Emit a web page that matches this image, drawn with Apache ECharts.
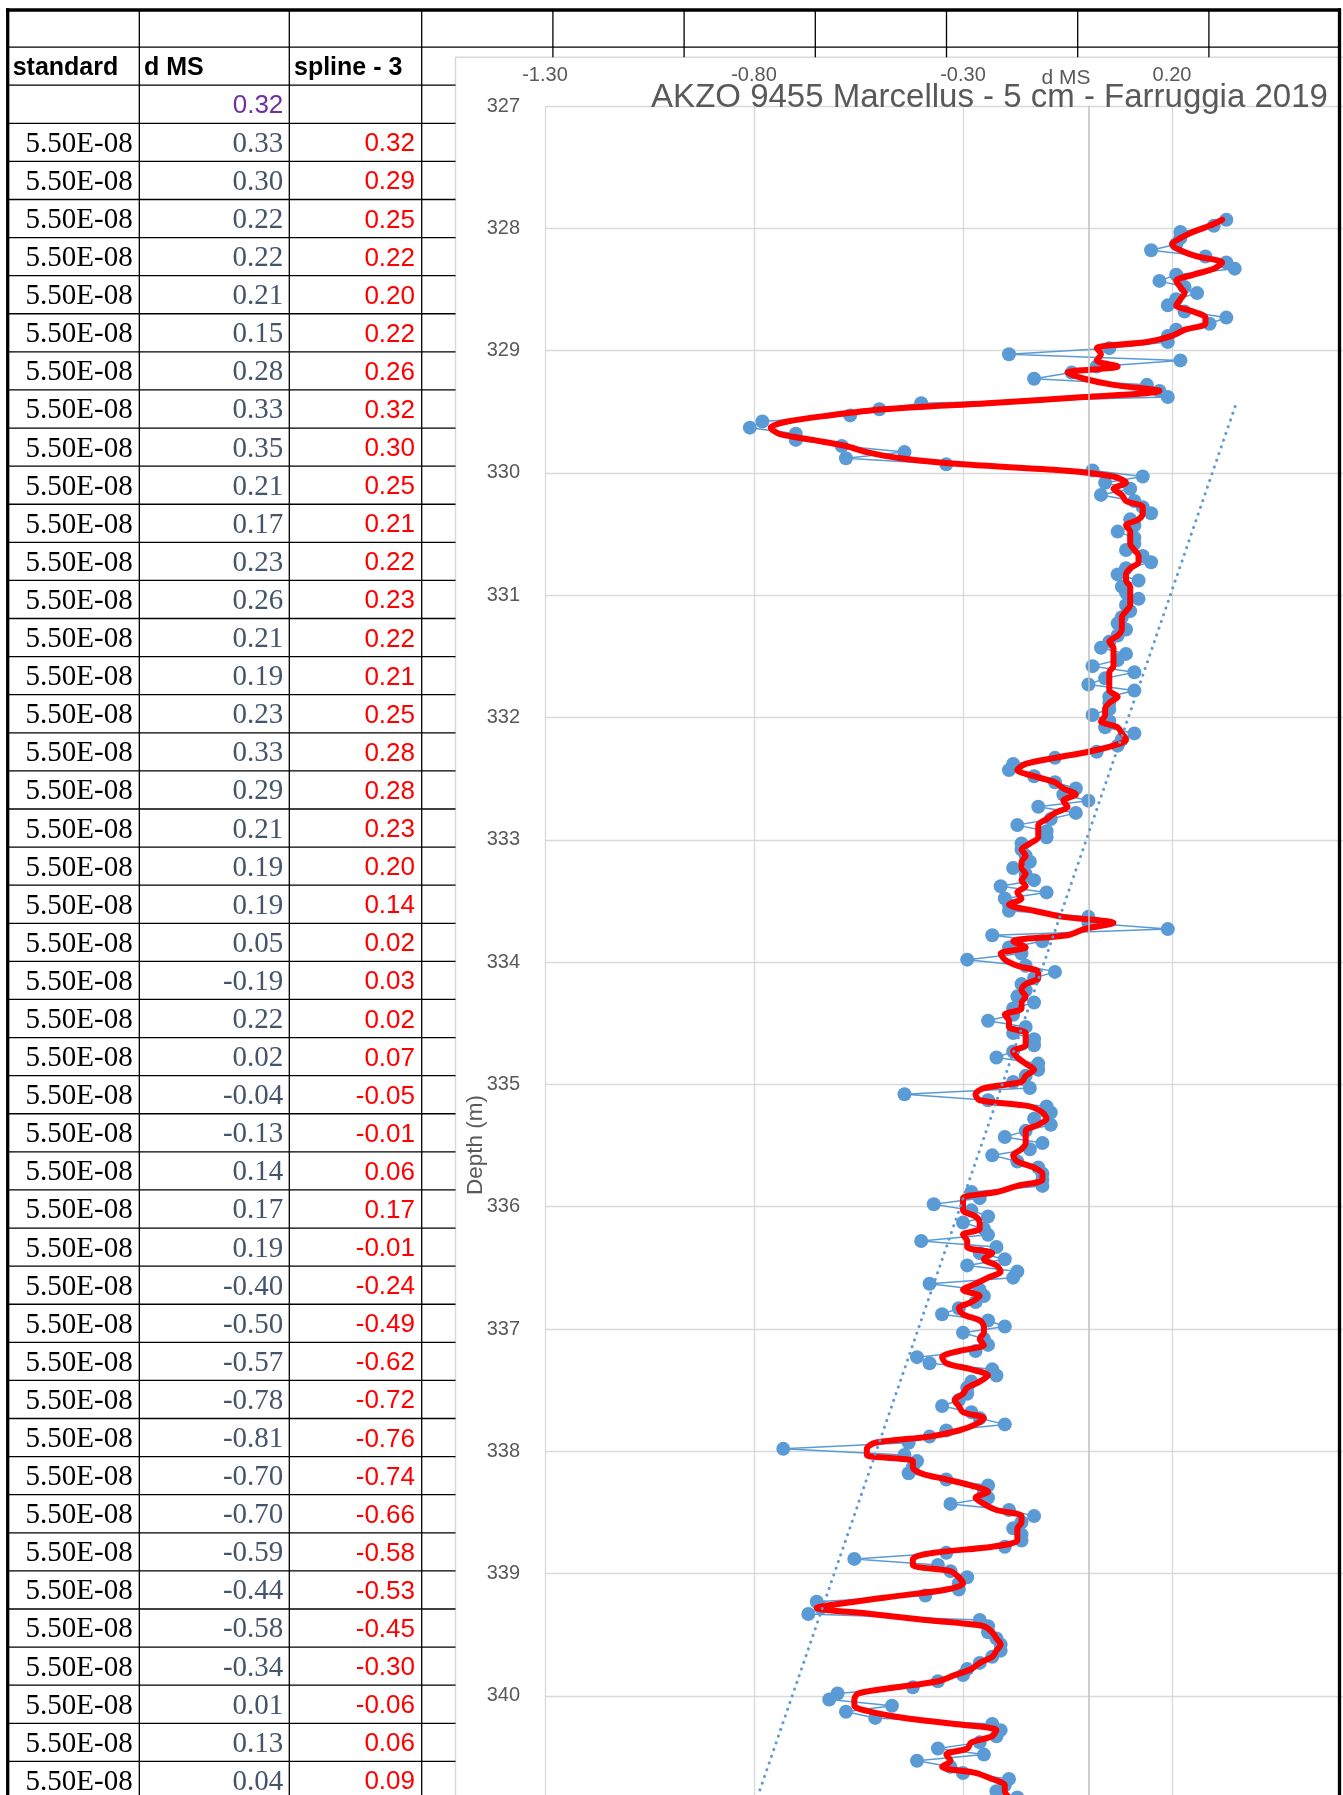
<!DOCTYPE html>
<html>
<head>
<meta charset="utf-8">
<script src="https://cdn.jsdelivr.net/npm/echarts@6/dist/echarts.min.js"></script>
<style>
html,body{margin:0;padding:0;background:#fff;}
#chart{width:1343px;height:1795px;}
</style>
</head>
<body>
<div id="chart"></div>
<script>
// ---------------- DATA ----------------
// Sample depth of spreadsheet row 0 and sampling step (5 cm)
const DEPTH_ROW0 = 327.88;
const DEPTH_STEP = 0.05;

// table headers
const tableHeaders = ['standard', 'd MS', 'spline - 3'];

// "standard" column (rows 1..44 visible in the sheet)
const standardCol = [5.5e-8,5.5e-8,5.5e-8,5.5e-8,5.5e-8,5.5e-8,5.5e-8,5.5e-8,5.5e-8,5.5e-8,
  5.5e-8,5.5e-8,5.5e-8,5.5e-8,5.5e-8,5.5e-8,5.5e-8,5.5e-8,5.5e-8,5.5e-8,
  5.5e-8,5.5e-8,5.5e-8,5.5e-8,5.5e-8,5.5e-8,5.5e-8,5.5e-8,5.5e-8,5.5e-8,
  5.5e-8,5.5e-8,5.5e-8,5.5e-8,5.5e-8,5.5e-8,5.5e-8,5.5e-8,5.5e-8,5.5e-8,
  5.5e-8,5.5e-8,5.5e-8,5.5e-8];

// d MS, rows 0..259 (row 0 is the purple cell, not plotted)
const dMS = [0.32,
  0.33,0.30,0.22,0.22,0.21,0.15,0.28,0.33,0.35,0.21,
  0.17,0.23,0.26,0.21,0.19,0.23,0.33,0.29,0.21,0.19,
  0.19,0.05,-0.19,0.22,0.02,-0.04,-0.13,0.14,0.17,0.19,
  -0.40,-0.50,-0.57,-0.78,-0.81,-0.70,-0.70,-0.59,-0.44,-0.58,
  -0.34,0.01,0.13,0.04,0.10,0.03,0.11,0.13,0.15,0.10,
  0.11,0.07,0.11,0.11,0.09,0.13,0.15,0.09,0.07,0.12,
  0.08,0.09,0.12,0.09,0.10,0.08,0.07,0.09,0.07,0.05,
  0.03,0.09,0.07,0.01,0.11,0.04,0.00,0.11,0.05,0.05,
  0.05,0.01,0.05,0.04,0.11,0.08,0.07,0.02,-0.08,-0.18,
  -0.19,-0.13,-0.08,-0.03,-0.06,0.00,-0.12,-0.03,-0.09,-0.17,
  -0.10,-0.10,-0.16,-0.16,-0.15,-0.14,-0.18,-0.15,-0.13,-0.21,
  -0.10,-0.20,-0.19,-0.19,0.00,0.00,0.19,-0.23,-0.11,-0.19,
  -0.16,-0.29,-0.15,-0.08,-0.13,-0.16,-0.15,-0.17,-0.13,-0.18,
  -0.18,-0.24,-0.15,-0.18,-0.13,-0.13,-0.18,-0.22,-0.12,-0.12,
  -0.15,-0.18,-0.14,-0.44,-0.24,-0.10,-0.09,-0.13,-0.09,-0.15,
  -0.20,-0.11,-0.14,-0.23,-0.17,-0.12,-0.11,-0.11,-0.11,-0.28,
  -0.26,-0.37,-0.28,-0.24,-0.30,-0.25,-0.24,-0.40,-0.22,-0.26,
  -0.20,-0.29,-0.17,-0.18,-0.38,-0.26,-0.25,-0.27,-0.31,-0.35,
  -0.24,-0.20,-0.30,-0.25,-0.24,-0.27,-0.41,-0.38,-0.23,-0.22,
  -0.28,-0.29,-0.29,-0.31,-0.35,-0.28,-0.26,-0.20,-0.34,-0.38,
  -0.43,-0.73,-0.44,-0.41,-0.42,-0.43,-0.34,-0.24,-0.25,-0.24,
  -0.33,-0.19,-0.13,-0.16,-0.18,-0.16,-0.16,-0.20,-0.34,-0.56,
  -0.36,-0.33,-0.29,-0.31,-0.31,-0.39,-0.65,-0.64,-0.67,-0.26,
  -0.24,-0.24,-0.22,-0.21,-0.21,-0.23,-0.26,-0.29,-0.30,-0.36,
  -0.42,-0.60,-0.62,-0.47,-0.58,-0.51,-0.23,-0.21,-0.22,-0.26,
  -0.36,-0.25,-0.41,-0.33,-0.30,-0.19,-0.20,-0.22,-0.17];

// spline - 3, rows 0..259 (row 0 empty)
const spline3 = [null,
  0.32,0.29,0.25,0.22,0.20,0.22,0.26,0.32,0.30,0.25,
  0.21,0.22,0.23,0.22,0.21,0.25,0.28,0.28,0.23,0.20,
  0.14,0.02,0.03,0.02,0.07,-0.05,-0.01,0.06,0.17,-0.01,
  -0.24,-0.49,-0.62,-0.72,-0.76,-0.74,-0.66,-0.58,-0.53,-0.45,
  -0.30,-0.06,0.06,0.09,0.06,0.08,0.09,0.13,0.13,0.12,
  0.09,0.10,0.10,0.10,0.11,0.12,0.12,0.10,0.09,0.09,
  0.10,0.10,0.10,0.10,0.09,0.08,0.08,0.08,0.07,0.05,
  0.06,0.06,0.06,0.06,0.05,0.05,0.05,0.05,0.07,0.05,
  0.04,0.04,0.03,0.07,0.08,0.09,0.06,0.00,-0.08,-0.15,
  -0.17,-0.13,-0.08,-0.06,-0.03,-0.06,-0.05,-0.08,-0.10,-0.12,
  -0.12,-0.12,-0.14,-0.16,-0.15,-0.16,-0.16,-0.15,-0.16,-0.15,
  -0.17,-0.16,-0.19,-0.13,-0.06,0.06,-0.01,-0.05,-0.18,-0.15,
  -0.21,-0.20,-0.17,-0.12,-0.12,-0.15,-0.16,-0.15,-0.16,-0.16,
  -0.20,-0.19,-0.19,-0.15,-0.15,-0.15,-0.18,-0.17,-0.15,-0.13,
  -0.15,-0.16,-0.25,-0.27,-0.26,-0.14,-0.11,-0.10,-0.12,-0.15,
  -0.15,-0.15,-0.16,-0.18,-0.17,-0.13,-0.11,-0.11,-0.17,-0.22,
  -0.30,-0.30,-0.30,-0.27,-0.26,-0.26,-0.30,-0.29,-0.29,-0.23,
  -0.25,-0.22,-0.21,-0.24,-0.27,-0.30,-0.26,-0.28,-0.31,-0.30,
  -0.26,-0.25,-0.25,-0.26,-0.25,-0.31,-0.35,-0.34,-0.28,-0.24,
  -0.26,-0.29,-0.30,-0.32,-0.31,-0.30,-0.25,-0.27,-0.31,-0.38,
  -0.51,-0.53,-0.53,-0.42,-0.42,-0.40,-0.34,-0.28,-0.24,-0.27,
  -0.25,-0.22,-0.16,-0.16,-0.17,-0.17,-0.17,-0.23,-0.37,-0.42,
  -0.42,-0.33,-0.31,-0.30,-0.34,-0.45,-0.56,-0.65,-0.52,-0.39,
  -0.25,-0.23,-0.22,-0.21,-0.22,-0.23,-0.26,-0.28,-0.32,-0.36,
  -0.46,-0.55,-0.56,-0.56,-0.52,-0.44,-0.32,-0.22,-0.23,-0.28,
  -0.29,-0.34,-0.33,-0.35,-0.27,-0.23,-0.20,-0.20,-0.19];

// linear trendline (depth = intercept + slope * dMS)
const trendSlope = -9.95;
const trendIntercept = 332.95;
const trendXRange = [0.351, -0.9];

// axis definitions (tick labels)
const dmsAxis = {min: -1.3, max: 0.7, step: 0.5};
const depthAxis = {min: 327, max: 342, step: 1};

const chartTitle = 'AKZO 9455 Marcellus - 5 cm - Farruggia 2019';
const xAxisTitle = 'd MS';
const yAxisTitle = 'Depth (m)';

// ---------------- BUILD ----------------
const depthOf = i => Math.round((DEPTH_ROW0 + DEPTH_STEP * i) * 100) / 100;
const FIRST_PLOTTED_ROW = 1;
const bluePts = [], redPts = [];
for (let i = FIRST_PLOTTED_ROW; i < dMS.length; i++) bluePts.push([dMS[i], depthOf(i)]);
for (let i = FIRST_PLOTTED_ROW; i < spline3.length; i++) if (spline3[i] !== null) redPts.push([spline3[i], depthOf(i)]);
const trendPts = trendXRange.map(x => [x, trendIntercept + trendSlope * x]);

function sci(v) {
  const e = Math.floor(Math.log10(Math.abs(v)));
  const m = v / Math.pow(10, e);
  return m.toFixed(2) + 'E' + (e < 0 ? '-' : '+') + String(Math.abs(e)).padStart(2, '0');
}

// spreadsheet layout
const L = {
  rowTop0: 9, rowH: 38.095, rows: 47,
  colX: [7.7, 139.3, 289.3, 421.7], colW: 131.2, extraCols: 6,
  chartLeft: 455.5, chartTop: 57.3, right: 1339.5, bottom: 1795
};
// plot area (pixels per unit)
const PLOT = {left: 545, top: 106, pxPerDms: 418, pxPerMetre: 122.3};

const rowTop = k => L.rowTop0 + L.rowH * k;
const G = [];
function hline(x1, x2, y, w, z) { G.push({type: 'line', z: z || 0, silent: true, shape: {x1, y1: y, x2, y2: y}, style: {stroke: '#000', lineWidth: w || 1.3}}); }
function vline(x, y1, y2, w, z) { G.push({type: 'line', z: z || 0, silent: true, shape: {x1: x, y1, x2: x, y2}, style: {stroke: '#000', lineWidth: w || 1.3}}); }
function txt(t, x, y, font, fill, align, z) { G.push({type: 'text', z: z || 10, silent: true, x, y, style: {text: t, font, fill, align, verticalAlign: 'middle'}}); }

// chart object background
G.push({type: 'rect', z: 0, silent: true, shape: {x: L.chartLeft, y: L.chartTop, width: 1000, height: 1900}, style: {fill: '#fff', stroke: '#d9d9d9', lineWidth: 1.5}});
// row lines
for (let k = 1; k <= L.rows; k++) hline(L.colX[0], k === 1 ? L.right : L.chartLeft, rowTop(k));
// column lines
for (let c = 1; c < L.colX.length; c++) vline(L.colX[c], 10, L.bottom);
for (let j = 1; j <= L.extraCols; j++) vline(L.colX[3] + L.colW * j, 10, L.chartTop);
// thick borders
hline(6, 1341, 10, 3.3, 11);
vline(L.colX[0], 8.3, L.bottom, 3.3, 11);
vline(L.right, 8.3, L.bottom, 3.3, 11);

// header texts
const HF = 'bold 25px "Liberation Sans"';
txt(tableHeaders[0], 12.7, rowTop(1) + 20.9, HF, '#000', 'left');
txt(tableHeaders[1], 144, rowTop(1) + 20.9, HF, '#000', 'left');
txt(tableHeaders[2], 294, rowTop(1) + 20.9, HF, '#000', 'left');
// row 0 (purple)
txt(dMS[0].toFixed(2), 283.3, rowTop(2) + 20.9, '26px "Liberation Sans"', '#7030a0', 'right');
// data rows
for (let i = 1; i <= standardCol.length; i++) {
  const y = rowTop(i + 2) + 20.9;
  txt(sci(standardCol[i - 1]), 132.7, y, '29px "Liberation Serif"', '#000', 'right');
  txt(dMS[i].toFixed(2), 283.3, y, '29px "Liberation Serif"', '#44546a', 'right');
  txt(spline3[i].toFixed(2), 415, y, '26px "Liberation Sans"', '#ff0000', 'right');
}

// chart texts
txt(chartTitle, 989.5, 98.4, '33px "Liberation Sans"', '#595959', 'center', 12);
txt(xAxisTitle, 1066, 78.5, '21px "Liberation Sans"', '#595959', 'center', 12);
G.push({type: 'text', z: 12, silent: true, x: 475.5, y: 1145, rotation: Math.PI / 2,
  style: {text: yAxisTitle, font: '22.5px "Liberation Sans"', fill: '#595959', align: 'center', verticalAlign: 'middle'}});

const chart = echarts.init(document.getElementById('chart'), null, {renderer: 'canvas'});
chart.setOption({
  animation: false,
  backgroundColor: '#fff',
  textStyle: {fontFamily: 'Liberation Sans'},
  grid: {
    left: PLOT.left, top: PLOT.top,
    width: PLOT.pxPerDms * (dmsAxis.max - dmsAxis.min),
    height: PLOT.pxPerMetre * (depthAxis.max - depthAxis.min),
    containLabel: false,
    outerBoundsMode: 'none'
  },
  xAxis: {
    type: 'value', position: 'top', min: dmsAxis.min, max: dmsAxis.max, interval: dmsAxis.step, z: 1,
    axisLine: {show: false}, axisTick: {show: false},
    axisLabel: {color: '#595959', fontSize: 20, fontFamily: 'Liberation Sans', margin: 31, verticalAlign: 'middle',
      formatter: v => v.toFixed(2)},
    splitLine: {show: true, lineStyle: {color: '#d9d9d9', width: 1.3}}
  },
  yAxis: {
    type: 'value', inverse: true, min: depthAxis.min, max: depthAxis.max, interval: depthAxis.step, z: 1,
    axisLine: {show: false}, axisTick: {show: false},
    axisLabel: {color: '#595959', fontSize: 20, fontFamily: 'Liberation Sans', margin: 25, formatter: v => String(v)},
    splitLine: {show: true, lineStyle: {color: '#d9d9d9', width: 1.3}}
  },
  graphic: {elements: G},
  series: [
    {
      name: 'zero', type: 'line', data: [], z: 2, silent: true,
      markLine: {silent: true, symbol: ['none', 'none'], label: {show: false}, animation: false,
        lineStyle: {color: '#bfbfbf', width: 1.5, type: 'solid'}, data: [{xAxis: 0}]}
    },
    {
      name: 'd MS', type: 'line', data: bluePts, z: 3, silent: true,
      symbol: 'circle', symbolSize: 14, showSymbol: true,
      itemStyle: {color: '#5b9bd5'},
      lineStyle: {color: '#5b9bd5', width: 1.5}
    },
    {
      name: 'spline - 3', type: 'line', data: redPts, z: 4, silent: true,
      symbol: 'none', smooth: 0.3,
      lineStyle: {color: '#ff0000', width: 6, cap: 'round', join: 'round'}
    },
    {
      name: 'trend', type: 'line', data: trendPts, z: 5, silent: true,
      symbol: 'none',
      lineStyle: {color: '#5b9bd5', width: 3, type: [0.1, 7], cap: 'round'}
    }
  ]
});
</script>
</body>
</html>
